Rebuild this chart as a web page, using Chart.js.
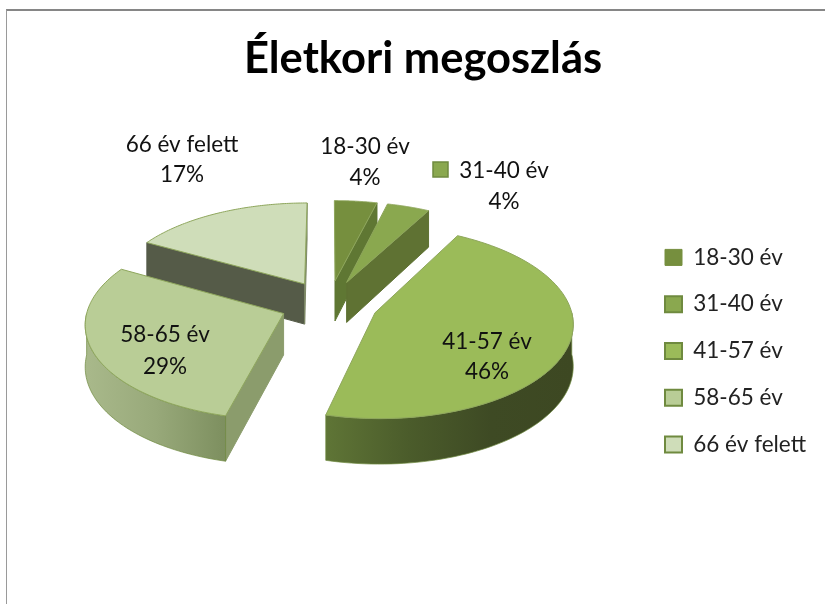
<!DOCTYPE html>
<html><head><meta charset="utf-8">
<style>
html,body{margin:0;padding:0;background:#fff;}
#wrap{position:relative;width:825px;height:604px;overflow:hidden;}
#frame{position:absolute;left:6px;top:9px;right:-5px;bottom:-5px;border-top:2px solid #868686;border-left:1px solid #9a9a9a;}
canvas{position:absolute;left:0;top:0;}
</style>
<script src="https://cdn.jsdelivr.net/npm/chart.js@4"></script>
</head><body>
<div id="wrap"><div id="frame"></div><canvas id="c" width="825" height="604"></canvas></div>
<script>
const titleText = 'Életkori megoszlás';
const categories = ['18-30 év','31-40 év','41-57 év','58-65 év','66 év felett'];
const percentages = [4,4,46,29,17];
const topColors = ['#768f3e','#8aa84f','#9bbb59','#b9cd96','#cfddb9'];
const startWalls = [null,null,null,'#8b9c6c','#555b48'];
const endWalls = ['#5f7733','#5f7233',null,null,'#7d8866'];
const rimGradients = [null,null,['#5f7536','#4b5c2b','#3e4a24','#3d4822'],['#a9b98b','#98a97a','#7d8f5f'],null];
const labelCentres = [[365,147,178],[504,171,202],[487,342,372],[165,335,367],[182,145,175]];
const drawOrder = [4,0,1,3,2];
const pie = {cx:329,cy:304,squash:0.485,persp:0.1,depth:41,explode:49};
const FONT = 'Lato';

function project(X,Y,R){
  const p = 1 + pie.persp*Y/R;
  return {x:pie.cx+X*p, y:pie.cy+Y*pie.squash*p, p};
}
const pie3d = {
  id:'pie3d',
  beforeDatasetDraw(){ return false; },
  afterDatasetsDraw(chart){
    const ctx = chart.ctx;
    const arcs = chart.getDatasetMeta(0).data;
    drawOrder.forEach(i=>{
      const el = arcs[i];
      const R = el.outerRadius, a0 = el.startAngle, a1 = el.endAngle;
      const mid = (a0+a1)/2;
      const ox = Math.cos(mid)*pie.explode, oy = Math.sin(mid)*pie.explode;
      const pt = (a,r)=>project(ox+Math.cos(a)*r, oy+Math.sin(a)*r, R);
      const tip = pt(0,0);
      const wall = (a,col)=>{
        if(!col) return;
        const o = pt(a,R);
        ctx.beginPath();
        ctx.moveTo(tip.x,tip.y); ctx.lineTo(o.x,o.y);
        ctx.lineTo(o.x,o.y+pie.depth*o.p); ctx.lineTo(tip.x,tip.y+pie.depth*tip.p);
        ctx.closePath();
        ctx.fillStyle = col; ctx.fill();
        ctx.strokeStyle = col; ctx.lineWidth = 1; ctx.stroke();
      };
      wall(a0,startWalls[i]);
      wall(a1,endWalls[i]);
      const f0 = Math.max(a0,0), f1 = Math.min(a1,Math.PI);
      if(rimGradients[i] && f1>f0){
        const n = 60, pts = [];
        for(let k=0;k<=n;k++) pts.push(pt(f0+(f1-f0)*k/n,R));
        const xs = pts.map(q=>q.x);
        const g = ctx.createLinearGradient(Math.min(...xs),0,Math.max(...xs),0);
        rimGradients[i].forEach((c,k,arr)=>g.addColorStop(k/(arr.length-1),c));
        ctx.beginPath();
        pts.forEach((q,k)=> k?ctx.lineTo(q.x,q.y):ctx.moveTo(q.x,q.y));
        pts.slice().reverse().forEach(q=>ctx.lineTo(q.x,q.y+pie.depth*q.p));
        ctx.closePath();
        ctx.fillStyle = g; ctx.fill();
        ctx.strokeStyle = '#6f8a3f'; ctx.lineWidth = 0.7; ctx.stroke();
      }
      ctx.beginPath();
      ctx.moveTo(tip.x,tip.y);
      const n = 80;
      for(let k=0;k<=n;k++){ const q = pt(a0+(a1-a0)*k/n,R); ctx.lineTo(q.x,q.y); }
      ctx.closePath();
      ctx.fillStyle = topColors[i]; ctx.fill();
      ctx.strokeStyle = '#8ea65c'; ctx.lineWidth = 1; ctx.stroke();
    });
    ctx.save();
    ctx.fillStyle = '#111';
    ctx.textAlign = 'center'; ctx.textBaseline = 'middle';
    ctx.font = '22.5px '+FONT;
    categories.forEach((name,i)=>{
      const [x,y1,y2] = labelCentres[i];
      ctx.fillText(name,x,y1);
      ctx.fillText(percentages[i]+'%',x,y2);
    });
    ctx.fillStyle = topColors[1]; ctx.strokeStyle = '#6f8a3f'; ctx.lineWidth = 1.5;
    ctx.fillRect(433,162,15,15); ctx.strokeRect(433,162,15,15);
    ctx.restore();
  }
};

new Chart(document.getElementById('c'),{
  type:'pie',
  data:{labels:categories,datasets:[{data:percentages,backgroundColor:topColors,borderColor:'#6f8a3f',borderWidth:1,radius:195}]},
  plugins:[pie3d],
  options:{
    responsive:false,animation:false,
    layout:{padding:{left:30,right:9}},
    plugins:{
      tooltip:{enabled:false},
      title:{display:true,text:titleText,color:'#000',
        font:{family:FONT,size:43.5,weight:'bold',lineHeight:1.2},
        padding:{top:33,bottom:10}},
      legend:{position:'right',
        title:{display:true,text:' ',font:{size:12,lineHeight:1},padding:{top:0,bottom:86}},
        labels:{color:'#222',font:{family:FONT,size:22.5,lineHeight:1.25},boxWidth:17,boxHeight:16,padding:24.3,
          generateLabels(chart){
            return Chart.overrides.pie.plugins.legend.labels.generateLabels(chart).map((l,i)=>({...l,lineWidth:i?2:1,strokeStyle:i?'#6f8a3f':topColors[0]}));
          }}}
    }
  }
});
</script>
</body></html>
